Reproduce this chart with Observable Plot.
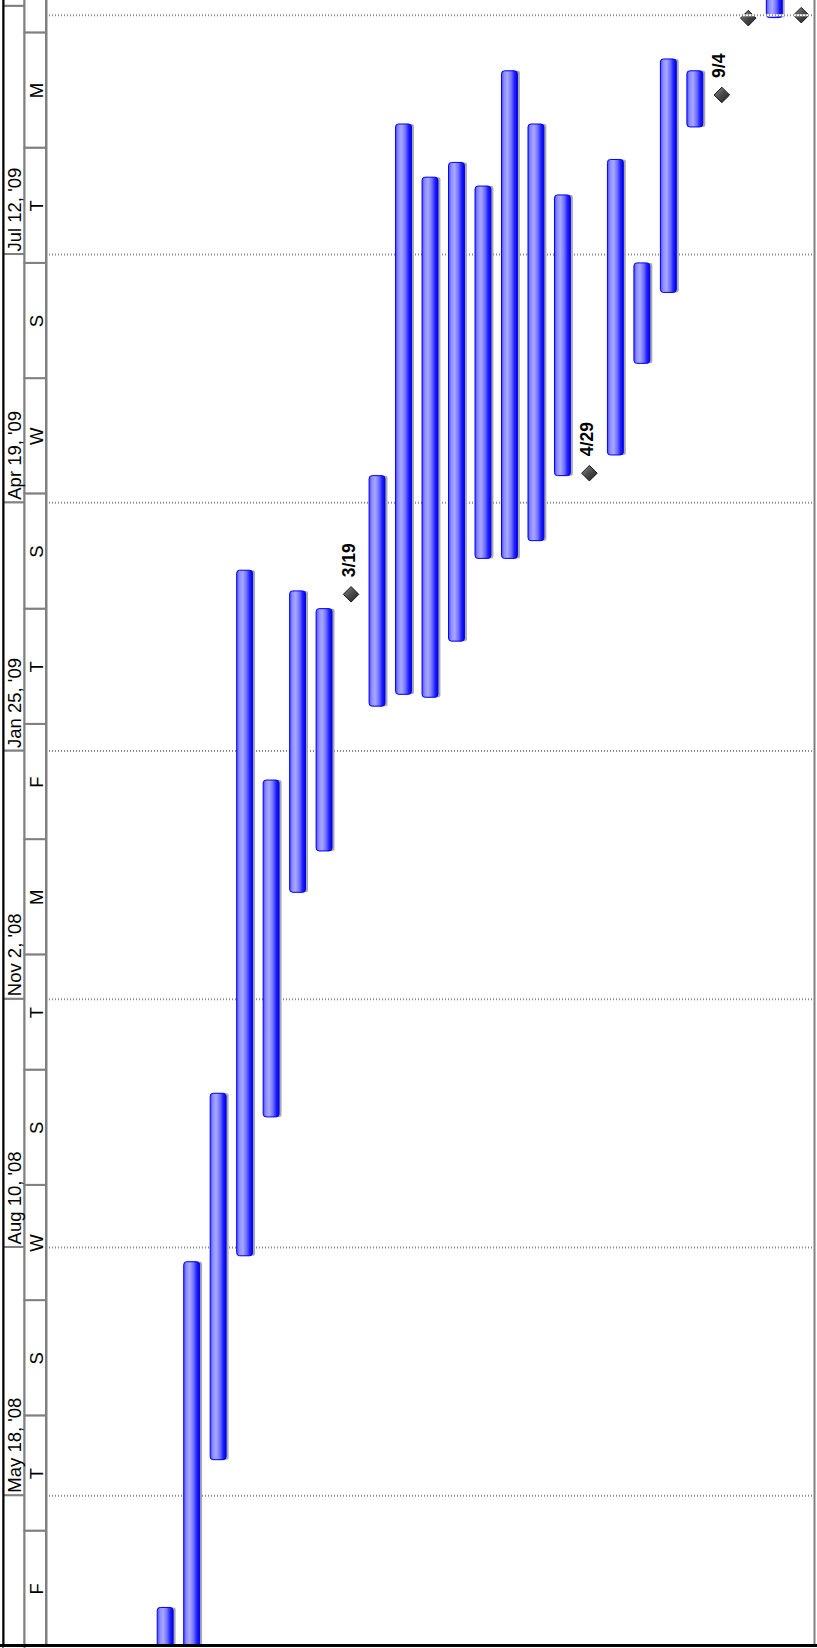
<!DOCTYPE html>
<html>
<head>
<meta charset="utf-8">
<script src="https://cdn.jsdelivr.net/npm/d3@7"></script>
<script src="https://cdn.jsdelivr.net/npm/@observablehq/plot@0.6"></script>
<style>
  html, body { margin: 0; padding: 0; background: #fff; }
  #chart { position: relative; width: 817px; height: 1648px; overflow: hidden; background: #fff; }
  #chart > svg { position: absolute; top: 0; }
</style>
</head>
<body>
<div id="chart"></div>
<script>
// ---------- Timescale tiers ----------
const majorStarts = ["2008-02-24", "2008-05-18", "2008-08-10", "2008-11-02", "2009-01-25", "2009-04-19", "2009-07-12", "2009-10-04"];
const majorLabels = ["", "May 18, '08", "Aug 10, '08", "Nov 2, '08", "Jan 25, '09", "Apr 19, '09", "Jul 12, '09", ""];
const minorStarts = ["2008-03-28", "2008-05-06", "2008-06-14", "2008-07-23", "2008-08-31", "2008-10-09", "2008-11-17",
                     "2008-12-26", "2009-02-03", "2009-03-14", "2009-04-22", "2009-05-31", "2009-07-09", "2009-08-17", "2009-09-25"];
const minorLabels = ["F", "T", "S", "W", "S", "T", "M", "F", "T", "S", "W", "S", "T", "M", ""];
const gridDates   = ["2008-05-18", "2008-08-10", "2008-11-02", "2009-01-25", "2009-04-19", "2009-07-12"];
const finishDates = ["2009-10-01"];
const viewStart = "2008-03-28T07:00";
const viewEnd   = "2009-10-05T23:00";

// ---------- Tasks (row = task position across the chart) ----------
const barRows   = [0, 1, 2, 3, 4, 5, 6, 8, 9, 10, 11, 12, 13, 14, 15, 17, 18, 19, 20, 23];
const barStarts = ["2008-03-01", "2008-03-01", "2008-05-30", "2008-08-07", "2008-09-23", "2008-12-08", "2008-12-22",
                   "2009-02-09", "2009-02-13", "2009-02-12", "2009-03-03", "2009-03-31", "2009-03-31", "2009-04-06",
                   "2009-04-28", "2009-05-05", "2009-06-05", "2009-06-29", "2009-08-24", "2009-09-30"];
const barEnds   = ["2008-04-10", "2008-08-05", "2008-10-01", "2009-03-27", "2009-01-15", "2009-03-20", "2009-03-14",
                   "2009-04-28", "2009-08-25", "2009-08-07", "2009-08-12", "2009-08-04", "2009-09-12", "2009-08-25",
                   "2009-08-01", "2009-08-13", "2009-07-09", "2009-09-16", "2009-09-12", "2009-11-15"];
const milestoneRows   = [7, 16, 21, 22, 24];
const milestoneDates  = ["2009-03-19", "2009-04-29", "2009-09-04", "2009-09-30", "2009-10-01"];
const milestoneLabels = ["3/19", "4/29", "9/4", "", ""];

// ---------- Build ----------
const FONT = "'Liberation Sans', Arial, Helvetica, sans-serif";
const parse = s => new Date(s.length > 10 ? s + ":00Z" : s + "T00:00:00Z");
const H = 1648;
const yScale = {type: "utc", domain: [parse(viewStart), parse(viewEnd)], axis: null};

const majorCells = majorStarts.map((s, i) => ({tier: 0, start: parse(s), end: d3.utcDay.offset(parse(s), 84), label: majorLabels[i]}));
const minorCells = minorStarts.map((s, i) => ({tier: 1, start: parse(s), end: d3.utcDay.offset(parse(s), 39), label: minorLabels[i]}));

const scalePlot = Plot.plot({
  width: 46, height: H, marginLeft: 3, marginRight: 0, marginTop: 0, marginBottom: 3,
  x: {domain: [0, 2], axis: null},
  y: yScale,
  style: {background: "white", fontFamily: FONT, overflow: "hidden"},
  marks: [
    Plot.rect([...majorCells, ...minorCells], {x1: "tier", x2: d => d.tier + 1, y1: "start", y2: "end",
      fill: "white", stroke: "#808080", strokeWidth: 2}),
    Plot.text(majorCells, {x: d => d.tier + 0.5, y: "start", text: "label", rotate: -90, textAnchor: "start",
      lineAnchor: "middle", dx: 1, dy: -3, fontSize: 18.5, fill: "black"}),
    Plot.text(minorCells, {x: d => d.tier + 0.5, y: d => new Date((+d.start + +d.end) / 2), text: "label", rotate: -90,
      textAnchor: "middle", lineAnchor: "middle", dx: 1.5, fontSize: 18.5, fill: "black"}),
    Plot.ruleX([0], {stroke: "black", strokeWidth: 2}),
    Plot.ruleY([parse(viewStart)], {stroke: "black", strokeWidth: 3, insetLeft: -3})
  ]
});

const bars = barRows.map((r, i) => ({row: r, start: parse(barStarts[i]), end: parse(barEnds[i])}));
const miles = milestoneRows.map((r, i) => ({row: r, date: parse(milestoneDates[i]), label: milestoneLabels[i]}));
const half = 0.3;

const chart = Plot.plot({
  width: 771, height: H, marginLeft: 0, marginRight: 3, marginTop: 0, marginBottom: 3,
  x: {domain: [-4.5, 24.5], axis: null},
  y: yScale,
  style: {background: "white", fontFamily: FONT, overflow: "hidden"},
  marks: [
    Plot.ruleY(gridDates.map(parse), {stroke: "#8a8a8a", strokeWidth: 2, strokeDasharray: "1,2"}),
    Plot.rect(bars, {x1: d => d.row - half, x2: d => d.row + half, y1: "start", y2: "end",
      fill: "#a9a9a9", dx: 2.5, rx: 2, clip: true}),
    Plot.rect(bars, {x1: d => d.row - half, x2: d => d.row + half, y1: "start", y2: "end",
      fill: "url(#barGrad)", stroke: "#0000ff", strokeWidth: 1, rx: 3, clip: true}),
    Plot.dot(miles, {x: "row", y: "date", symbol: "diamond2", r: 7, fill: "url(#msGrad)", stroke: "#1a1a1a", strokeWidth: 1}),
    Plot.text(miles, {x: "row", y: "date", text: "label", rotate: -90, textAnchor: "start", lineAnchor: "middle",
      dx: -2, dy: -17, fontSize: 17.5, fontWeight: "bold", fill: "black"}),
    Plot.ruleY(finishDates.map(parse), {stroke: "white", strokeWidth: 2}),
    Plot.ruleY(finishDates.map(parse), {stroke: "#8a8a8a", strokeWidth: 2, strokeDasharray: "1,2"}),
    Plot.frame({stroke: "#808080", strokeWidth: 2, insetTop: -3}),
    Plot.ruleY([parse(viewStart)], {stroke: "black", strokeWidth: 3, insetRight: -3})
  ]
});

d3.select(chart).insert("defs", ":first-child").html(`
  <linearGradient id="barGrad" x1="0" y1="0" x2="1" y2="0">
    <stop offset="0" stop-color="#4a4aff"/>
    <stop offset="0.18" stop-color="#8e8eff"/>
    <stop offset="0.38" stop-color="#a8a8ff"/>
    <stop offset="0.62" stop-color="#7070ff"/>
    <stop offset="0.82" stop-color="#2020ff"/>
    <stop offset="1" stop-color="#0000e0"/>
  </linearGradient>
  <linearGradient id="msGrad" x1="0" y1="0" x2="1" y2="1">
    <stop offset="0" stop-color="#8a8a8a"/>
    <stop offset="0.5" stop-color="#4a4a4a"/>
    <stop offset="1" stop-color="#1e1e1e"/>
  </linearGradient>`);

scalePlot.style.left = "0px";
chart.style.left = "46px";
const root = document.getElementById("chart");
root.appendChild(scalePlot);
root.appendChild(chart);
</script>
</body>
</html>
